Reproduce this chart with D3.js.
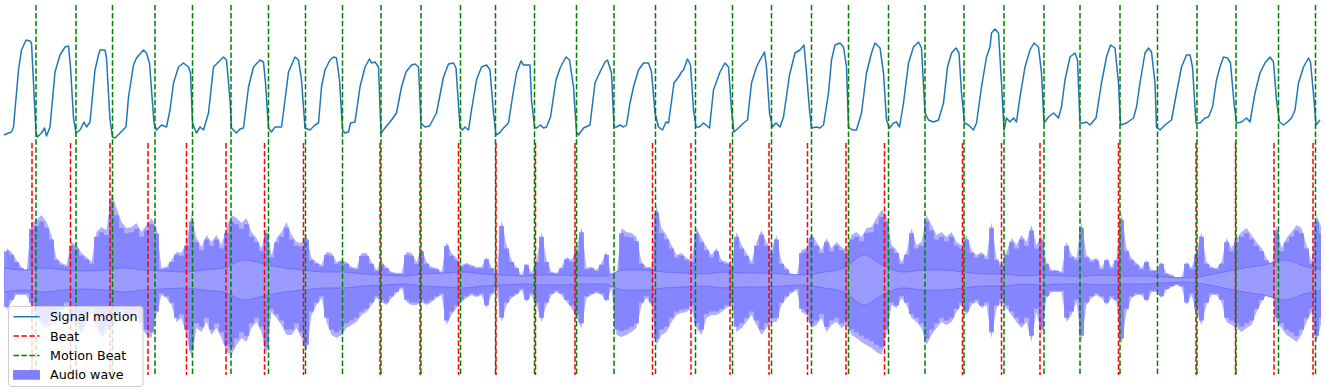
<!DOCTYPE html>
<meta charset="utf-8">
<style>
  body { margin: 0; background: #fff; }
  text { font-family: "DejaVu Sans", sans-serif; font-size: 12.7px; fill: #000; }
</style>
<svg width="1325" height="392"></svg>
<script src="https://d3js.org/d3.v7.min.js"></script>
<script>
  // motion signal: [time (s), normalised value]
  var signalMotion = [
    [0.00,0.03],[0.09,0.05],[0.15,0.06],[0.19,0.11],[0.29,0.68],[0.35,0.88],[0.44,0.98],[0.52,0.97],[0.55,0.95],[0.59,0.55],
    [0.64,0.05],[0.67,0.01],[0.75,0.05],[0.81,0.10],[0.85,0.02],[0.92,0.11],[1.02,0.66],[1.12,0.83],[1.22,0.91],[1.29,0.92],
    [1.33,0.71],[1.39,0.20],[1.44,0.05],[1.52,0.08],[1.60,0.16],[1.65,0.11],[1.72,0.16],[1.82,0.68],[1.89,0.83],[1.92,0.88],
    [2.02,0.88],[2.05,0.80],[2.12,0.18],[2.17,0.01],[2.22,0.00],[2.32,0.05],[2.44,0.11],[2.49,0.41],[2.59,0.73],[2.65,0.80],
    [2.79,0.88],[2.85,0.85],[2.91,0.75],[3.00,0.15],[3.05,0.08],[3.15,0.13],[3.25,0.11],[3.32,0.28],[3.39,0.55],[3.49,0.71],
    [3.59,0.75],[3.69,0.71],[3.73,0.65],[3.77,0.15],[3.85,0.05],[3.92,0.11],[3.99,0.08],[4.09,0.25],[4.19,0.71],[4.29,0.76],
    [4.39,0.81],[4.45,0.78],[4.52,0.38],[4.55,0.10],[4.65,0.05],[4.72,0.09],[4.79,0.10],[4.89,0.51],[4.99,0.71],[5.12,0.78],
    [5.19,0.76],[5.23,0.55],[5.29,0.10],[5.35,0.06],[5.42,0.11],[5.55,0.11],[5.62,0.38],[5.69,0.66],[5.75,0.73],[5.82,0.81],
    [5.89,0.78],[5.95,0.58],[6.02,0.10],[6.12,0.08],[6.22,0.13],[6.29,0.15],[6.35,0.51],[6.42,0.68],[6.52,0.78],[6.59,0.81],
    [6.65,0.80],[6.71,0.58],[6.77,0.08],[6.82,0.05],[6.89,0.06],[6.93,0.15],[7.02,0.16],[7.12,0.51],[7.22,0.71],[7.31,0.79],
    [7.35,0.75],[7.42,0.76],[7.49,0.71],[7.54,0.05],[7.62,0.10],[7.75,0.18],[7.85,0.25],[7.95,0.51],[8.04,0.66],[8.15,0.73],
    [8.22,0.74],[8.29,0.71],[8.34,0.15],[8.42,0.11],[8.51,0.12],[8.65,0.25],[8.79,0.61],[8.89,0.74],[8.99,0.75],[9.04,0.70],
    [9.12,0.11],[9.17,0.08],[9.22,0.11],[9.29,0.08],[9.35,0.28],[9.45,0.58],[9.55,0.71],[9.65,0.73],[9.72,0.68],[9.79,0.25],
    [9.84,0.03],[9.91,0.05],[9.99,0.10],[10.09,0.15],[10.17,0.41],[10.25,0.65],[10.34,0.77],[10.39,0.73],[10.45,0.73],[10.52,0.73],
    [10.55,0.38],[10.61,0.11],[10.65,0.10],[10.73,0.13],[10.79,0.10],[10.85,0.11],[10.93,0.21],[11.04,0.58],[11.13,0.71],[11.24,0.81],
    [11.31,0.78],[11.39,0.51],[11.45,0.06],[11.49,0.03],[11.59,0.10],[11.72,0.13],[11.82,0.55],[11.92,0.66],[12.02,0.76],[12.07,0.78],
    [12.15,0.65],[12.20,0.11],[12.25,0.11],[12.32,0.13],[12.39,0.11],[12.45,0.13],[12.52,0.35],[12.59,0.51],[12.69,0.68],[12.79,0.75],
    [12.89,0.75],[12.95,0.66],[13.02,0.25],[13.09,0.11],[13.17,0.08],[13.24,0.16],[13.29,0.15],[13.40,0.55],[13.49,0.61],[13.55,0.66],
    [13.59,0.68],[13.67,0.79],[13.73,0.73],[13.79,0.28],[13.84,0.11],[13.91,0.11],[13.99,0.15],[14.11,0.10],[14.19,0.48],[14.32,0.66],
    [14.42,0.75],[14.49,0.71],[14.55,0.28],[14.60,0.06],[14.69,0.10],[14.79,0.15],[14.87,0.18],[14.95,0.55],[15.05,0.71],[15.12,0.78],
    [15.21,0.86],[15.25,0.71],[15.31,0.25],[15.37,0.11],[15.44,0.15],[15.52,0.11],[15.59,0.21],[15.71,0.63],[15.82,0.85],[15.92,0.88],
    [16.00,0.93],[16.05,0.65],[16.11,0.28],[16.15,0.10],[16.25,0.11],[16.32,0.10],[16.39,0.13],[16.49,0.45],[16.55,0.78],[16.62,0.93],
    [16.72,0.95],[16.79,0.91],[16.85,0.71],[16.89,0.11],[16.97,0.08],[17.05,0.08],[17.15,0.25],[17.25,0.65],[17.35,0.85],[17.42,0.95],
    [17.52,0.90],[17.59,0.65],[17.65,0.18],[17.71,0.10],[17.79,0.15],[17.85,0.16],[17.91,0.11],[17.99,0.35],[18.09,0.75],[18.19,0.91],
    [18.29,0.96],[18.35,0.90],[18.42,0.25],[18.49,0.18],[18.59,0.16],[18.69,0.18],[18.79,0.35],[18.87,0.71],[18.95,0.85],[19.04,0.90],
    [19.10,0.85],[19.15,0.45],[19.21,0.15],[19.29,0.13],[19.39,0.08],[19.45,0.15],[19.55,0.51],[19.65,0.81],[19.72,0.91],[19.75,1.05],
    [19.82,1.09],[19.89,1.05],[19.95,0.55],[20.00,0.08],[20.05,0.20],[20.12,0.16],[20.19,0.20],[20.25,0.16],[20.32,0.41],[20.42,0.71],
    [20.52,0.88],[20.60,0.95],[20.69,0.91],[20.75,0.65],[20.80,0.15],[20.89,0.21],[20.99,0.25],[21.09,0.20],[21.15,0.31],[21.22,0.58],
    [21.32,0.81],[21.42,0.85],[21.47,0.78],[21.52,0.15],[21.59,0.15],[21.65,0.16],[21.72,0.13],[21.84,0.20],[21.95,0.55],[22.05,0.81],
    [22.13,0.93],[22.22,0.90],[22.29,0.55],[22.33,0.13],[22.45,0.15],[22.59,0.20],[22.65,0.31],[22.72,0.55],[22.82,0.85],[22.89,0.90],
    [22.95,0.86],[23.02,0.55],[23.05,0.11],[23.12,0.08],[23.22,0.13],[23.35,0.18],[23.45,0.45],[23.55,0.71],[23.65,0.83],[23.72,0.83],
    [23.77,0.71],[23.84,0.15],[23.92,0.15],[24.02,0.20],[24.09,0.21],[24.17,0.31],[24.25,0.58],[24.32,0.71],[24.39,0.81],[24.47,0.80],
    [24.53,0.75],[24.60,0.35],[24.65,0.15],[24.75,0.16],[24.85,0.20],[24.92,0.16],[25.02,0.45],[25.12,0.65],[25.22,0.75],[25.32,0.81],
    [25.39,0.76],[25.45,0.38],[25.51,0.16],[25.59,0.13],[25.67,0.16],[25.75,0.20],[25.82,0.28],[25.89,0.55],[25.99,0.71],[26.09,0.80],
    [26.13,0.76],[26.20,0.38],[26.24,0.13],[26.32,0.18]
  ];

  // beat times (s) from audio, and beats detected from motion
  var beatTimes = [0.56,1.33,2.12,2.88,3.65,4.44,5.21,5.99,7.52,8.32,9.09,9.84,10.63,11.42,12.97,
    13.74,14.52,15.30,16.07,16.84,17.61,19.17,19.95,20.72,22.29,23.84,24.63,25.40,26.18];
  var motionBeatTimes = [0.64,1.44,2.17,3.02,3.77,4.54,5.29,6.03,6.77,7.54,8.34,9.13,9.83,10.61,11.45,12.20,13.03,
    13.83,14.57,15.35,16.15,16.89,17.69,18.42,19.20,20.00,20.80,21.52,22.32,23.07,23.86,24.64,25.49,26.23];

  // audio envelope, one sample every 0.1 s
  var audioStep = 0.1;
  var audioUpper = [
    0.32,0.28,0.20,0.13,0.08,0.57,0.60,0.65,0.58,0.45,0.22,0.17,0.15,0.38,0.35,0.27,0.23,0.18,0.48,0.53,
    0.50,0.87,0.72,0.58,0.52,0.53,0.57,0.48,0.55,0.62,0.52,0.12,0.13,0.20,0.28,0.27,0.38,0.65,0.42,0.33,
    0.45,0.38,0.45,0.35,0.52,0.65,0.62,0.57,0.62,0.48,0.42,0.32,0.52,0.25,0.42,0.48,0.58,0.45,0.38,0.37,
    0.45,0.22,0.18,0.15,0.28,0.27,0.18,0.20,0.18,0.13,0.12,0.27,0.27,0.18,0.10,0.18,0.13,0.08,0.07,0.07,
    0.28,0.27,0.18,0.32,0.18,0.13,0.12,0.08,
    0.38,0.27,0.22,0.15,0.17,0.15,0.13,0.13,0.23,0.13,0.07,0.60,0.35,0.20,0.13,0.05,0.17,0.07,0.20,0.48,
    0.20,0.08,0.07,0.13,0.23,0.20,0.32,0.53,0.12,0.13,0.10,0.17,0.28,0.03,0.05,0.52,0.48,0.47,0.43,0.18,
    0.13,0.13,0.75,0.52,0.45,0.35,0.25,0.27,0.22,0.20,0.52,0.42,0.33,0.25,0.32,0.20,0.18,0.15,0.48,0.35,
    0.27,0.18,0.38,0.50,0.38,0.30,0.45,0.18,0.12,0.05,0.03,0.30,0.32,0.47,0.38,0.30,0.42,0.32,0.38,0.33,
    0.30,0.45,0.48,0.43,0.52,0.53,0.62,0.70,
    0.65,0.35,0.30,0.18,0.28,0.52,0.35,0.38,0.65,0.55,0.45,0.48,0.43,0.48,0.38,0.35,0.45,0.30,0.25,0.28,
    0.23,0.58,0.22,0.15,0.28,0.42,0.35,0.45,0.38,0.55,0.35,0.45,0.18,0.10,0.10,0.08,0.38,0.25,0.22,0.58,
    0.25,0.20,0.22,0.12,0.22,0.13,0.22,0.67,0.32,0.22,0.17,0.12,0.20,0.10,0.10,0.18,0.07,0.05,0.02,0.03,
    0.18,0.12,0.28,0.48,0.18,0.13,0.12,0.18,0.42,0.32,0.42,0.48,0.52,0.45,0.38,0.32,0.22,0.08,0.55,0.32,
    0.42,0.48,0.55,0.52,0.35,0.18,0.65,0.52
  ];
  var audioLower = [
    -0.30,-0.22,-0.15,-0.15,-0.15,-0.25,-0.35,-0.45,-0.48,-0.45,-0.42,-0.32,-0.25,-0.43,-0.42,-0.55,-0.42,-0.32,-0.48,-0.58,
    -0.52,-0.48,-0.42,-0.32,-0.38,-0.42,-0.35,-0.48,-0.55,-0.58,-0.35,-0.15,-0.18,-0.25,-0.42,-0.38,-0.55,-0.78,-0.48,-0.52,
    -0.42,-0.55,-0.48,-0.58,-0.72,-0.75,-0.65,-0.58,-0.62,-0.48,-0.42,-0.52,-0.75,-0.32,-0.38,-0.45,-0.55,-0.55,-0.48,-0.58,
    -0.72,-0.35,-0.25,-0.18,-0.42,-0.55,-0.58,-0.55,-0.48,-0.45,-0.42,-0.35,-0.32,-0.25,-0.18,-0.22,-0.25,-0.18,-0.13,-0.08,
    -0.22,-0.25,-0.25,-0.22,-0.25,-0.22,-0.18,-0.15,
    -0.45,-0.35,-0.28,-0.22,-0.18,-0.15,-0.17,-0.15,-0.28,-0.15,-0.08,-0.42,-0.25,-0.18,-0.15,-0.10,-0.22,-0.15,-0.25,-0.42,
    -0.25,-0.15,-0.12,-0.15,-0.22,-0.28,-0.38,-0.48,-0.18,-0.15,-0.13,-0.15,-0.22,-0.08,-0.55,-0.57,-0.55,-0.52,-0.48,-0.25,
    -0.18,-0.25,-0.65,-0.55,-0.52,-0.42,-0.35,-0.33,-0.32,-0.28,-0.48,-0.55,-0.38,-0.35,-0.35,-0.32,-0.28,-0.25,-0.52,-0.48,
    -0.42,-0.35,-0.45,-0.55,-0.48,-0.42,-0.42,-0.25,-0.18,-0.13,-0.10,-0.32,-0.35,-0.48,-0.45,-0.38,-0.52,-0.45,-0.42,-0.48,
    -0.45,-0.55,-0.58,-0.62,-0.65,-0.68,-0.72,-0.75,
    -0.55,-0.25,-0.28,-0.18,-0.25,-0.38,-0.42,-0.48,-0.65,-0.55,-0.48,-0.42,-0.45,-0.42,-0.32,-0.25,-0.35,-0.25,-0.22,-0.28,
    -0.25,-0.58,-0.28,-0.22,-0.28,-0.35,-0.42,-0.48,-0.42,-0.62,-0.32,-0.55,-0.18,-0.12,-0.12,-0.12,-0.42,-0.35,-0.22,-0.62,
    -0.25,-0.18,-0.15,-0.18,-0.25,-0.18,-0.22,-0.65,-0.32,-0.18,-0.15,-0.15,-0.22,-0.12,-0.12,-0.18,-0.10,-0.07,-0.05,-0.07,
    -0.25,-0.15,-0.32,-0.45,-0.25,-0.15,-0.15,-0.22,-0.42,-0.45,-0.48,-0.52,-0.48,-0.45,-0.32,-0.22,-0.15,-0.08,-0.42,-0.48,
    -0.55,-0.58,-0.62,-0.55,-0.42,-0.32,-0.62,-0.42
  ];
  // dense inner band of the wave, one value every 0.4 s
  var coreStep = 0.4;
  var audioCore = [0.12,0.10,0.12,0.10,0.09,0.10,0.12,0.10,0.09,0.08,0.10,0.12,0.20,0.16,0.12,0.10,0.08,0.08,0.06,0.05,
    0.04,0.06,0.07,0.08,0.06,0.05,0.04,0.05,0.05,0.04,0.04,0.10,0.10,0.08,0.07,0.06,0.08,0.07,0.07,0.06,
    0.05,0.08,0.12,0.25,0.14,0.08,0.10,0.10,0.08,0.06,0.06,0.04,0.05,0.04,0.04,0.05,0.04,0.04,0.03,0.02,
    0.04,0.08,0.12,0.15,0.20,0.14,0.10];

  var legendLabels = ["Signal motion", "Beat", "Motion Beat", "Audio wave"];

  var svg = d3.select("svg");

  var x = d3.scaleLinear().domain([0, 26.34]).range([4, 1321]);
  var ySig = d3.scaleLinear().domain([0, 1]).range([138, 38]);
  var yAud = d3.scaleLinear().domain([-1, 1]).range([380, 180]);

  svg.append("clipPath").attr("id", "plot")
    .append("rect").attr("x", 4).attr("y", 0).attr("width", 1317).attr("height", 392);

  var audio = svg.append("g").attr("clip-path", "url(#plot)");

  var samples = audioUpper.map(function(u, i) {
    return { t: i * audioStep, hi: u, lo: audioLower[i] };
  });
  samples.push({ t: samples.length * audioStep, hi: 0.08, lo: -0.15 });

  // soft outer edge of the waveform
  audio.append("path")
    .datum(samples)
    .attr("fill", "#b0b0ff")
    .attr("d", d3.area()
      .x(function(d) { return x(d.t + audioStep / 2); })
      .y0(function(d) { return yAud(d.lo); })
      .y1(function(d) { return yAud(d.hi); }));

  // body of the waveform
  audio.append("path")
    .datum(samples)
    .attr("fill", "#7e7eff")
    .attr("fill-opacity", 0.85)
    .attr("d", d3.area().curve(d3.curveStepAfter)
      .x(function(d) { return x(d.t); })
      .y0(function(d) { return yAud(d.lo * 0.9); })
      .y1(function(d) { return yAud(d.hi * 0.9); }));

  // inner band
  var core = audioCore.map(function(c, i) { return { t: i * coreStep, c: c }; });
  audio.append("path")
    .datum(core)
    .attr("fill", "#9b9bff")
    .attr("stroke", "#7070ff")
    .attr("stroke-width", 1)
    .attr("d", d3.area().curve(d3.curveMonotoneX)
      .x(function(d) { return x(d.t); })
      .y0(function(d) { return yAud(-d.c); })
      .y1(function(d) { return yAud(d.c); }));

  // motion signal
  svg.append("path")
    .datum(signalMotion)
    .attr("fill", "none")
    .attr("stroke", "#1f77b4")
    .attr("stroke-width", 1.5)
    .attr("stroke-linejoin", "round")
    .attr("d", d3.line()
      .x(function(d) { return x(d[0]); })
      .y(function(d) { return ySig(d[1]); }));

  // beats
  svg.append("g").selectAll("line")
    .data(beatTimes)
    .enter().append("line")
    .attr("x1", function(d) { return x(d); })
    .attr("x2", function(d) { return x(d); })
    .attr("y1", 143).attr("y2", 375)
    .attr("stroke", "#ff0000")
    .attr("stroke-width", 1.5)
    .attr("stroke-dasharray", "5.5,2.4");

  svg.append("g").selectAll("line")
    .data(motionBeatTimes)
    .enter().append("line")
    .attr("x1", function(d) { return x(d); })
    .attr("x2", function(d) { return x(d); })
    .attr("y1", 5).attr("y2", 375)
    .attr("stroke", "#008000")
    .attr("stroke-width", 1.5)
    .attr("stroke-dasharray", "5.5,2.4");

  // legend
  var legend = svg.append("g").attr("transform", "translate(8.5,306.5)");
  legend.append("rect")
    .attr("width", 134.5).attr("height", 80)
    .attr("rx", 3)
    .attr("fill", "#fff").attr("fill-opacity", 0.8)
    .attr("stroke", "#cccccc");

  var rows = legend.selectAll("g.row")
    .data(legendLabels)
    .enter().append("g")
    .attr("class", "row")
    .attr("transform", function(d, i) { return "translate(0," + (10.2 + i * 19.4) + ")"; });

  rows.append("text")
    .attr("x", 41.5)
    .attr("dy", "0.36em")
    .text(function(d) { return d; });

  rows.each(function(d, i) {
    var g = d3.select(this);
    if (i === 3) {
      g.append("rect").attr("x", 5).attr("y", -4.3).attr("width", 26).attr("height", 8.6)
        .attr("fill", "#7f7fff").attr("stroke", "#7f7fff");
    } else {
      g.append("line").attr("x1", 5).attr("x2", 31).attr("y1", 0).attr("y2", 0)
        .attr("stroke", ["#1f77b4", "#ff0000", "#008000"][i])
        .attr("stroke-width", 1.5)
        .attr("stroke-dasharray", i === 0 ? null : "5.5,2.4");
    }
  });
</script>
